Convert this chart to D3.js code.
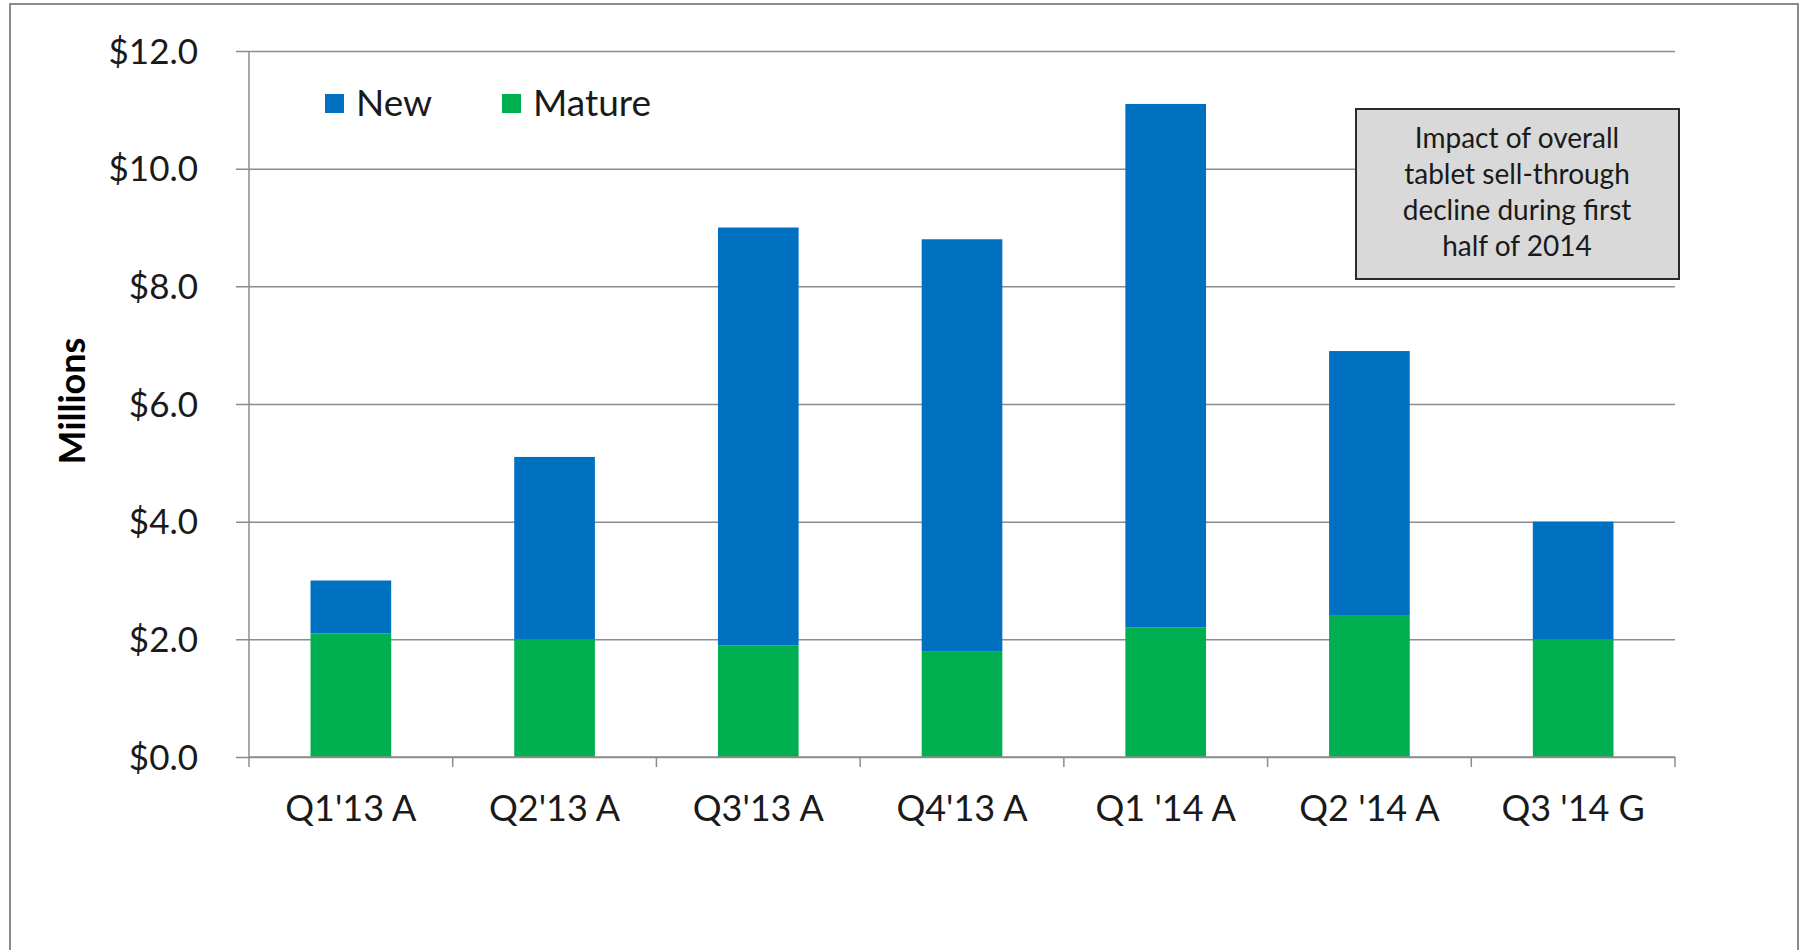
<!DOCTYPE html>
<html>
<head>
<meta charset="utf-8">
<script src="https://cdn.jsdelivr.net/npm/d3@7"></script>
<style>
    body { margin: 0; background: #fff; }
    svg text { font-family: Lato, "Open Sans", sans-serif; fill: #1a1a1a; }
    .grid line { stroke: #8c8c8c; stroke-width: 1.5; }
    .grid path { display: none; }
</style>
</head>
<body>
<div id="chart"></div>
<script>
// quarters and the two stacked series, in millions of dollars
var quarters = ["Q1'13 A", "Q2'13 A", "Q3'13 A", "Q4'13 A", "Q1 '14 A", "Q2 '14 A", "Q3 '14 G"];
var matureValues = [2.1, 2.0, 1.9, 1.8, 2.2, 2.4, 2.0];
var totalValues = [3.0, 5.1, 9.0, 8.8, 11.1, 6.9, 4.0];
var newValues = totalValues.map(function (t, i) { return +(t - matureValues[i]).toFixed(2); });
var yTicks = [0, 2, 4, 6, 8, 10, 12];
var seriesNames = ["New", "Mature"];
var noteLines = ["Impact of overall", "tablet sell-through", "decline during first", "half of 2014"];

var colors = { New: "#0070c0", Mature: "#00b050" };

// set the dimensions and margins of the graph
var margin = { top: 51, right: 130, bottom: 193, left: 249 },
    width = 1805 - margin.left - margin.right,
    height = 950 - margin.top - margin.bottom;

var root = d3.select("#chart")
    .append("svg")
    .attr("width", 1805)
    .attr("height", 950);

// outer frame of the picture
root.append("rect")
    .attr("x", 10)
    .attr("y", 4)
    .attr("width", 1788)
    .attr("height", 960)
    .attr("fill", "none")
    .attr("stroke", "#8c8c8c")
    .attr("stroke-width", 2);

var svg = root.append("g")
    .attr("transform", "translate(" + margin.left + "," + margin.top + ")");

var x = d3.scaleBand()
    .domain(quarters)
    .range([0, width])
    .padding(0);

var y = d3.scaleLinear()
    .domain([0, 12])
    .range([height, 0]);

// horizontal gridlines with small outside ticks
svg.append("g")
    .attr("class", "grid")
    .call(d3.axisLeft(y)
        .tickValues(yTicks)
        .tickSize(-width)
        .tickFormat(""))
    .selectAll("line")
    .attr("x1", -13);

// y tick labels
svg.append("g")
    .selectAll("text")
    .data(yTicks)
    .enter()
    .append("text")
    .attr("x", -51)
    .attr("y", function (d) { return y(d); })
    .attr("dy", "0.36em")
    .style("text-anchor", "end")
    .style("font-size", "35px")
    .text(function (d) { return "$" + d.toFixed(1); });

// vertical axis line
svg.append("line")
    .attr("x1", 0).attr("x2", 0)
    .attr("y1", 0).attr("y2", height)
    .attr("stroke", "#8c8c8c")
    .attr("stroke-width", 1.5);

// stacked bars
var rows = quarters.map(function (q, i) {
    return { quarter: q, New: newValues[i], Mature: matureValues[i] };
});
var layers = d3.stack().keys(["Mature", "New"])(rows);

var barWidth = x.bandwidth() * 0.396;

svg.selectAll(".layer")
    .data(layers)
    .enter()
    .append("g")
    .attr("class", "layer")
    .attr("fill", function (d) { return colors[d.key]; })
    .selectAll("rect")
    .data(function (d) { return d; })
    .enter()
    .append("rect")
    .attr("x", function (d) { return x(d.data.quarter) + (x.bandwidth() - barWidth) / 2; })
    .attr("y", function (d) { return y(d[1]); })
    .attr("width", barWidth)
    .attr("height", function (d) { return y(d[0]) - y(d[1]); });

// x axis line and tick marks between categories
svg.append("line")
    .attr("x1", 0).attr("x2", width)
    .attr("y1", height).attr("y2", height)
    .attr("stroke", "#8c8c8c")
    .attr("stroke-width", 1.5);

svg.selectAll(".xtick")
    .data(d3.range(quarters.length + 1))
    .enter()
    .append("line")
    .attr("class", "xtick")
    .attr("x1", function (i) { return i * x.step(); })
    .attr("x2", function (i) { return i * x.step(); })
    .attr("y1", height)
    .attr("y2", height + 10)
    .attr("stroke", "#8c8c8c")
    .attr("stroke-width", 1.5);

svg.selectAll(".xlabel")
    .data(quarters)
    .enter()
    .append("text")
    .attr("class", "xlabel")
    .attr("x", function (d) { return x(d) + x.bandwidth() / 2; })
    .attr("y", height + 64)
    .style("text-anchor", "middle")
    .style("font-size", "36px")
    .text(function (d) { return d; });

// y-axis title
root.append("text")
    .attr("transform", "translate(85,401) rotate(-90)")
    .style("text-anchor", "middle")
    .style("font-size", "36px")
    .style("font-weight", "bold")
    .style("fill", "#000")
    .text("Millions");

// legend
var legend = root.append("g")
    .selectAll("g")
    .data(seriesNames)
    .enter()
    .append("g")
    .attr("transform", function (d, i) { return "translate(" + (325 + i * 177) + ",94)"; });

legend.append("rect")
    .attr("width", 19)
    .attr("height", 19)
    .attr("fill", function (d) { return colors[d]; });

legend.append("text")
    .attr("x", 31)
    .attr("y", 22)
    .style("font-size", "37px")
    .text(function (d) { return d; });

// annotation box
var note = root.append("g").attr("transform", "translate(1356,109)");
note.append("rect")
    .attr("width", 323)
    .attr("height", 170)
    .attr("fill", "#d9d9d9")
    .attr("stroke", "#2b2b2b")
    .attr("stroke-width", 2);

note.selectAll("text")
    .data(noteLines)
    .enter()
    .append("text")
    .attr("x", 161)
    .attr("y", function (d, i) { return 39 + i * 36; })
    .style("text-anchor", "middle")
    .style("font-size", "28px")
    .text(function (d) { return d; });
</script>
</body>
</html>
